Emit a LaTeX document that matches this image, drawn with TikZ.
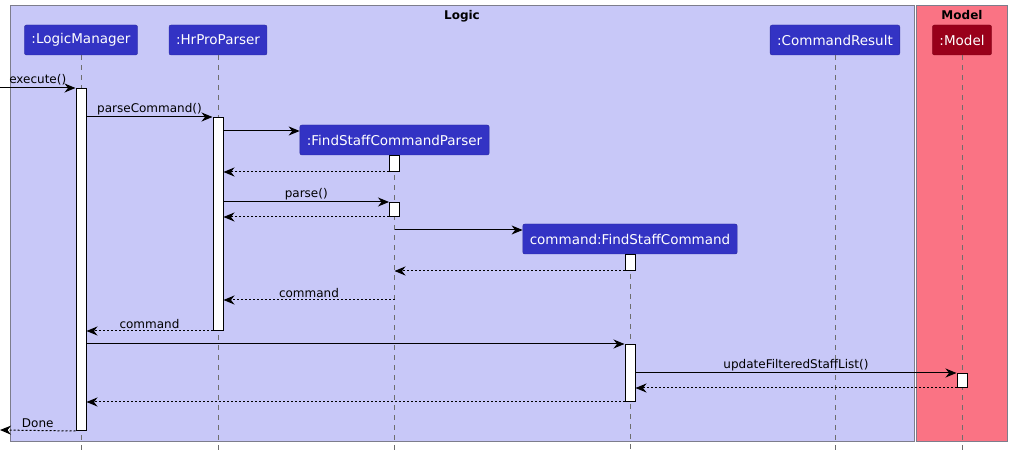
\documentclass[tikz,border=0pt]{standalone}
\usepackage{fontspec}
\setmainfont{DejaVu Sans}
\usetikzlibrary{arrows.meta}

\definecolor{logicbg}{RGB}{200,200,248}
\definecolor{modelbg}{RGB}{250,115,132}
\definecolor{groupline}{RGB}{125,125,140}
\definecolor{partblue}{RGB}{51,51,196}
\definecolor{partred}{RGB}{153,0,26}
\definecolor{lifegray}{RGB}{110,110,110}

\tikzset{
  participant/.style={rectangle, rounded corners=2pt, draw=#1!80!black, fill=#1, text=white,
    minimum height=30pt, inner xsep=7pt, font=\fontsize{13.5}{16}\selectfont},
  activation/.style={rectangle, draw=black, fill=white, line width=1pt, inner sep=0pt,
    minimum width=10pt, anchor=north},
  lifeline/.style={lifegray, line width=0.8pt, dash pattern=on 5pt off 5pt},
  msg/.style={line width=1pt, -{Stealth[length=11pt,width=9pt,inset=3.5pt]}},
  reply/.style={msg, dash pattern=on 2pt off 2pt},
  msglabel/.style={above, inner sep=2pt, font=\fontsize{12}{14}\selectfont},
  grouptitle/.style={font=\bfseries\fontsize{12}{14}\selectfont, inner sep=0pt}
}

\begin{document}
\begin{tikzpicture}[x=1pt, y=-1pt]
    \useasboundingbox (0,0) rectangle (1013,454);

    % Draw groups
    \draw[groupline, fill=logicbg, line width=1pt] (10,6) rectangle (914,442);
    \draw[groupline, fill=modelbg, line width=1pt] (916,6) rectangle (1007,442);
    \node[grouptitle] (logic) at (462,16) {Logic};
    \node[grouptitle] (model) at (962,15) {Model};

    % Draw participants
    \node[participant=partblue] (lm) at (81,40) {:LogicManager};
    \node[participant=partblue] (hp) at (218,40) {:HrProParser};
    \node[participant=partblue] (fscp) at (394.5,140) {:FindStaffCommandParser};
    \node[participant=partblue] (fsc) at (630,239) {command:FindStaffCommand};
    \node[participant=partblue] (cr) at (835,40) {:CommandResult};
    \node[participant=partred] (mdl) at (962,40) {:Model};

    % Draw lifelines
    \foreach \p in {lm, hp, fscp, fsc, cr, mdl}
        \draw[lifeline] (\p.south) -- (\p.south |- 0,452);

    % Draw activations
    \node[activation, minimum height=342pt] (lmA) at (81,88) {};
    \node[activation, minimum height=213pt] (hpA) at (218,117) {};
    \node[activation, minimum height=16pt] (fscpA1) at (394.5,155) {};
    \node[activation, minimum height=14pt] (fscpA2) at (394.5,202) {};
    \node[activation, minimum height=16pt] (fscA1) at (630,254) {};
    \node[activation, minimum height=57pt] (fscA2) at (630,344) {};
    \node[activation, minimum height=14pt] (mdlA) at (962,373) {};

    \coordinate (in) at (0,88);
    \coordinate (out) at (0,430);

    % Draw messages
    \draw[msg] (in) -- node[msglabel] {execute()} (lmA.north west);
    \draw[msg] (lmA.east |- hpA.north) -- node[msglabel] {parseCommand()} (hpA.north west);
    \draw[msg] (hpA.east |- 0,131) -- (fscp.west |- 0,131);
    \draw[reply] (fscpA1.south west) -- (hpA.east |- fscpA1.south);
    \draw[msg] (hpA.east |- fscpA2.north) -- node[msglabel] {parse()} (fscpA2.north west);
    \draw[reply] (fscpA2.south west) -- (hpA.east |- fscpA2.south);
    \draw[msg] (fscp.south |- 0,230) -- (fsc.west |- 0,230);
    \draw[reply] (fscA1.south west) -- (fscp.south |- fscA1.south);
    \draw[reply] (fscp.south |- 0,300) -- node[msglabel] {command} (hpA.east |- 0,300);
    \draw[reply] (hpA.south west) -- node[msglabel] {command} (lmA.east |- hpA.south);
    \draw[msg] (lmA.east |- fscA2.north) -- (fscA2.north west);
    \draw[msg] (fscA2.east |- mdlA.north) -- node[msglabel] {updateFilteredStaffList()} (mdlA.north west);
    \draw[reply] (mdlA.south west) -- (fscA2.east |- mdlA.south);
    \draw[reply] (fscA2.south west) -- (lmA.east |- fscA2.south);
    \draw[reply] (lmA.south west) -- node[msglabel] {Done} (out);
\end{tikzpicture}
\end{document}
